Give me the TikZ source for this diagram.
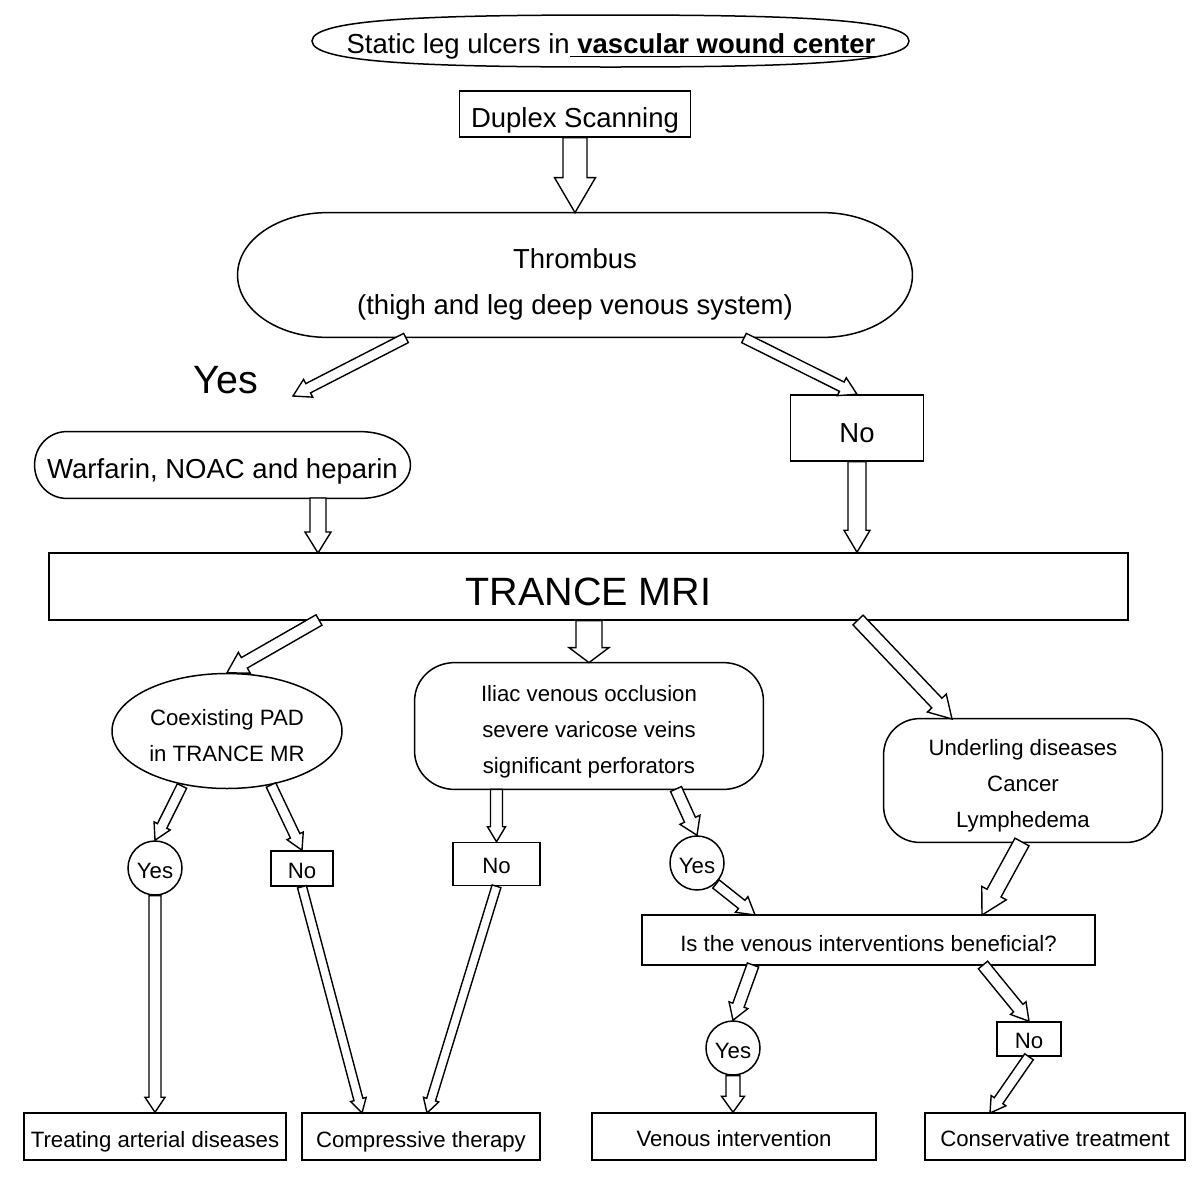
\documentclass[tikz,border=0pt]{standalone}
\usepackage{fontspec}
\setmainfont{Liberation Sans}
\usetikzlibrary{shapes.geometric,calc}
% hollow block arrow: tail, tip, shaft half width, head half width, head length
\newcommand\barrow[5]{%
  \coordinate (bh) at ($(#2)!#5!(#1)$);
  \draw[blockarr] ($(#1)!#3!90:(#2)$) -- ($(bh)!#3!-90:(#1)$) -- ($(bh)!#4!-90:(#1)$) -- (#2)
    -- ($(bh)!#4!90:(#1)$) -- ($(bh)!#3!90:(#1)$) -- ($(#1)!#3!-90:(#2)$) -- cycle;}
% rounded box with elliptical corners: node, left x radius, right x radius, y radius
\newcommand\ebox[4]{%
  \draw[boxline] ($(#1.north west)+(#2,0pt)$) -- ($(#1.north east)+(-#3,0pt)$)
    arc[start angle=90,end angle=0,x radius=#3,y radius=#4]
    -- ($(#1.south east)+(0pt,#4)$)
    arc[start angle=0,end angle=-90,x radius=#3,y radius=#4]
    -- ($(#1.south west)+(#2,0pt)$)
    arc[start angle=270,end angle=180,x radius=#2,y radius=#4]
    -- ($(#1.north west)+(0pt,-#4)$)
    arc[start angle=180,end angle=90,x radius=#2,y radius=#4] -- cycle;}
% one line of text, centred on its capitals and lowered by #1
\newcommand\dn[2]{\raisebox{-#1}[\fontcharht\font`X][0pt]{#2}}
\begin{document}
\begin{tikzpicture}[x=0.5pt,y=-0.5pt,
  boxline/.style={draw=black,line width=0.75pt},
  blockarr/.style={draw=black,fill=white,line width=0.7pt,line join=miter},
  big/.style={font=\fontsize{13.75}{16}\selectfont},
  sml/.style={font=\fontsize{11.1}{18}\selectfont},
  huge/.style={font=\fontsize{19.75}{23}\selectfont},
  rectn/.style={draw=black,line width=0.75pt,rectangle,inner sep=0pt,align=center},
  ovaln/.style={draw=black,line width=0.75pt,ellipse,inner sep=0pt,align=center},
  circn/.style={draw=black,line width=0.75pt,circle,inner sep=0pt,minimum size=27pt},
  plain/.style={inner sep=0pt,align=center}]
\useasboundingbox[fill=white] (0,0) rectangle (1200,1200);

% nodes
\node[plain,big] (top) at (611,41)
  {\dn{1.5pt}{Static leg ulcers in\underline{\textbf{ vascular wound center}}}};
\draw[boxline] (312,41) .. controls (312,18.9) and (431.4,15) .. (610.5,15)
  .. controls (789.6,15) and (909,18.9) .. (909,41)
  .. controls (909,63.1) and (789.6,67) .. (610.5,67)
  .. controls (431.4,67) and (312,63.1) .. (312,41) -- cycle;
\node[rectn,big,minimum width=115.5pt,minimum height=23pt] (dup) at (575,114) {\dn{2.25pt}{Duplex Scanning}};
\node[plain,minimum width=337pt,minimum height=62pt] (thr) at (575,275) {};
\ebox{thr}{45pt}{45pt}{31pt}
\node[plain,big,font=\fontsize{13.75}{23}\selectfont] (thrtxt) at (575,284)
  {Thrombus\\(thigh and leg deep venous system)};
\node[plain,huge] (yesbig) at (226,380) {Yes};
\node[rectn,big,minimum width=66.5pt,minimum height=33pt] (no1) at (857,428) {\dn{2.5pt}{No}};
\node[plain,big,minimum width=187.5pt,minimum height=33pt] (war) at (222.5,465) {\dn{2.25pt}{Warfarin, NOAC and heparin}};
\ebox{war}{16pt}{25pt}{16.5pt}
\node[rectn,huge,minimum width=539.5pt,minimum height=33.5pt] (trance) at (588.5,586.5) {\dn{2.5pt}{TRANCE MRI}};
\node[ovaln,minimum width=115pt,minimum height=57.5pt] (coex) at (227,731) {};
\node[plain,sml] (coextxt) at (227,736) {Coexisting PAD\\in TRANCE MR};
\node[plain,minimum width=174pt,minimum height=63pt] (iliac) at (589,726) {};
\ebox{iliac}{20pt}{20pt}{19pt}
\node[plain,sml] (iliactxt) at (589,732)
  {Iliac venous occlusion\\severe varicose veins\\significant perforators};
\node[plain,minimum width=139pt,minimum height=61.5pt] (under) at (1023,780.5) {};
\ebox{under}{18pt}{18pt}{18pt}
\node[plain,sml] (undertxt) at (1023,785.5) {Underling diseases\\Cancer\\Lymphedema};
\node[circn,sml] (yes1) at (155,868) {\dn{1.35pt}{Yes}};
\node[rectn,sml,minimum width=31pt,minimum height=17.5pt] (no2) at (302,868.5) {\dn{1pt}{No}};
\node[rectn,sml,minimum width=43.5pt,minimum height=21.5pt] (no3) at (496.5,864) {\dn{1pt}{No}};
\node[circn,sml] (yes2) at (697,863) {\dn{1.35pt}{Yes}};
\node[rectn,sml,minimum width=226.5pt,minimum height=25pt] (isb) at (868.5,940)
  {\dn{1.8pt}{Is the venous interventions beneficial?}};
\node[circn,sml] (yes3) at (733,1048) {\dn{1.25pt}{Yes}};
\node[rectn,sml,minimum width=32pt,minimum height=17pt] (no4) at (1029,1039) {\dn{0.8pt}{No}};
\node[rectn,sml,minimum width=131pt,minimum height=23.5pt] (treat) at (155,1136.5) {\dn{1.6pt}{Treating arterial diseases}};
\node[rectn,sml,minimum width=119pt,minimum height=23.5pt] (comp) at (421,1136.5) {\dn{1.6pt}{Compressive therapy}};
\node[rectn,sml,minimum width=142pt,minimum height=23.5pt] (ven) at (734,1136.5) {\dn{1.3pt}{Venous intervention}};
\node[rectn,sml,minimum width=130pt,minimum height=23.5pt] (cons) at (1055,1136.5) {\dn{1.3pt}{Conservative treatment}};

% connector end points
\coordinate (a2s) at (406,338);
\coordinate (a2e) at (293,396);
\coordinate (a3s) at (744,338);
\coordinate (a4s) at (318,498);
\coordinate (a4e) at (318,553);
\coordinate (a6s) at (319,620);
\coordinate (a8s) at (858,620);
\coordinate (a8e) at (952,719);
\coordinate (a9s) at (182,786);
\coordinate (a10s) at (271,785);
\coordinate (a12s) at (676,789);
\coordinate (a13s) at (716,884);
\coordinate (a13e) at (755,915);
\coordinate (a14s) at (1022,842);
\coordinate (a14e) at (982,915);
\coordinate (a15s) at (753,965);
\coordinate (a16s) at (983,965);
\coordinate (a18e) at (990,1113);
\coordinate (a20e) at (362,1113);
\coordinate (a21e) at (427,1113);

% connectors
\barrow{dup.south}{thr.north}{6pt}{10.25pt}{17.5pt}
\barrow{a2s}{a2e}{2.6pt}{5pt}{8.5pt}
\barrow{a3s}{no1.north}{2.6pt}{5pt}{8.5pt}
\barrow{a4s}{a4e}{4pt}{6.5pt}{10.5pt}
\barrow{no1.south}{no1.south |- trance.north}{4.5pt}{6.5pt}{11pt}
\barrow{a6s}{coex.north}{3pt}{6pt}{10pt}
\barrow{iliac.north |- trance.south}{iliac.north}{6.5pt}{10pt}{7.5pt}
\barrow{a8s}{a8e}{3.5pt}{6.5pt}{11pt}
\barrow{a9s}{yes1.north}{2.6pt}{4.5pt}{8pt}
\barrow{a10s}{no2.north}{2.6pt}{4.5pt}{8pt}
\barrow{no3.north |- iliac.south}{no3.north}{3pt}{4.5pt}{7.5pt}
\barrow{a12s}{yes2.north}{3pt}{5.5pt}{8.5pt}
\barrow{a13s}{a13e}{2.6pt}{5pt}{8.5pt}
\barrow{a14s}{a14e}{4pt}{7pt}{12.5pt}
\barrow{a15s}{yes3.north}{3pt}{5pt}{8pt}
\barrow{a16s}{no4.north}{3pt}{5pt}{8.5pt}
\barrow{yes3.south}{yes3.south |- ven.north}{3.5pt}{5.75pt}{8pt}
\barrow{no4.south}{a18e}{2.6pt}{4.5pt}{7.5pt}
\barrow{yes1.south}{yes1.south |- treat.north}{3pt}{5pt}{7.5pt}
\barrow{no2.south}{a20e}{2.3pt}{4pt}{7pt}
\barrow{no3.south}{a21e}{2.3pt}{4pt}{7pt}
\end{tikzpicture}
\end{document}
